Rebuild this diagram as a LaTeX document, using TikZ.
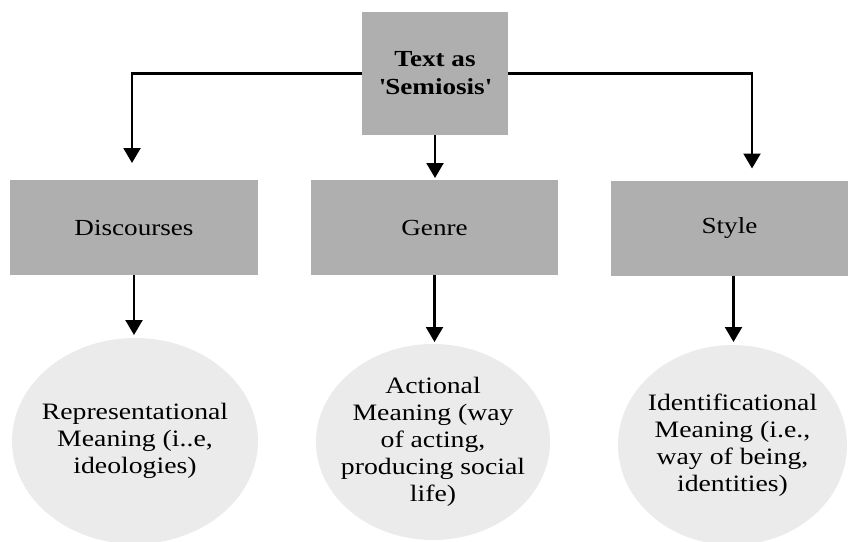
\documentclass[tikz,border=0pt]{standalone}
\usepackage{fontspec}
\setmainfont{Liberation Serif}[FakeStretch=1.18]
\usetikzlibrary{arrows.meta,shapes.geometric}
\definecolor{boxgray}{HTML}{AFAFAF}
\definecolor{ellgray}{HTML}{EBEBEB}
\tikzset{
  graybox/.style={rectangle, fill=boxgray, inner sep=0pt, outer sep=0pt, align=center,
    font=\fontsize{23}{28}\selectfont},
  ellnode/.style={ellipse, fill=ellgray, inner sep=0pt, outer sep=0pt},
  elltext/.style={align=center, font=\fontsize{23.5}{27}\selectfont},
  conn/.style={line width=2.2pt, black, line join=miter},
  arr/.style={conn, -{Triangle[width=17pt,length=15pt]}}
}
\begin{document}
\begin{tikzpicture}[x=1pt,y=-1pt]
\useasboundingbox (0,0) rectangle (848,541);
% top box
\node[graybox, minimum width=146pt, minimum height=123pt] (top) at (435,73.5)
  {\textbf{Text as}\\\textbf{\textquotesingle Semiosis\textquotesingle}};
% middle boxes
\node[graybox, minimum width=248pt, minimum height=95pt] (disc) at (134,227.5) {Discourses};
\node[graybox, minimum width=247pt, minimum height=95pt] (genre) at (434.5,227.5) {Genre};
\node[graybox, minimum width=237pt, minimum height=95pt] (style) at (729.5,228) {Style};
% ellipses
\node[ellnode, minimum width=246pt, minimum height=206pt,
  label={[elltext]center:Representational\\Meaning (i..e,\\ideologies)}] (e1) at (135,441) {};
\node[ellnode, minimum width=234pt, minimum height=196pt,
  label={[elltext]center:Actional\\Meaning (way\\of acting,\\producing social\\life)}] (e2) at (433,442) {};
\node[ellnode, minimum width=229pt, minimum height=200pt,
  label={[elltext]center:Identificational\\Meaning (i.e.,\\way of being,\\identities)}] (e3) at (732.5,445) {};
% connectors
\draw[arr] (top.west) -| ([xshift=-2pt,yshift=17pt]disc.north);
\draw[arr] (top.east) -| ([xshift=22.5pt,yshift=12pt]style.north);
\draw[arr, shorten >=2pt] (top.south) -- (top.south |- genre.north);
\draw[arr, shorten >=3pt] (disc.south) -- (disc.south |- e1.north);
\draw[arr, shorten >=2pt] (genre.south) -- (genre.south |- e2.north);
\draw[arr, shorten >=3pt] ([xshift=4pt]style.south) -- ([xshift=4pt]style.south |- e3.north);
\end{tikzpicture}
\end{document}
